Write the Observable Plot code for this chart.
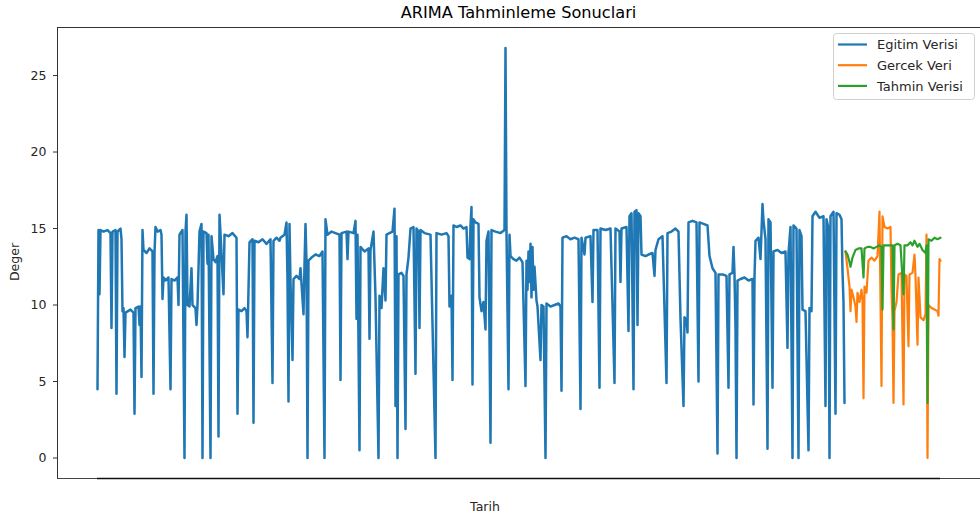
<!DOCTYPE html>
<html><head><meta charset="utf-8">
<script src="https://cdn.jsdelivr.net/npm/d3@7"></script>
<script src="https://cdn.jsdelivr.net/npm/@observablehq/plot@0.6"></script>
<style>body{margin:0;background:#fff} #chart svg{font-family:"DejaVu Sans",sans-serif;display:block}</style>
</head><body><div id="chart"></div>
<script>
// [time step, value]
const egitim = [[0,4.5],[1,14.9],[2,10.7],[3,14.9],[6,14.8],[10,14.9],[13,14.7],[14,8.5],[15,14.8],[18,14.9],[19,4.2],[20,14.8],[23,15.0],[24,14.3],[25,9.6],[26,9.8],[27,6.6],[28,9.5],[33,9.7],[36,9.5],[37,2.9],[38,9.8],[41,9.9],[42,8.7],[43,9.9],[44,5.3],[45,14.9],[46,13.6],[49,13.4],[52,13.7],[55,13.5],[56,4.2],[57,13.4],[58,15.1],[60,14.8],[63,14.9],[64,14.6],[65,10.4],[66,11.8],[68,11.6],[71,11.8],[73,4.5],[74,11.7],[77,11.6],[80,11.8],[81,10.0],[82,14.6],[85,14.9],[87,0],[88,14.8],[89,15.9],[90,10.0],[92,9.9],[94,12.4],[95,10.0],[98,9.8],[99,8.7],[100,10.0],[102,14.8],[104,15.3],[105,0],[106,14.8],[109,14.7],[110,12.7],[111,14.6],[113,0],[114,14.5],[116,13.0],[118,12.8],[120,13.2],[121,1.4],[122,15.9],[123,14.7],[126,10.7],[127,14.6],[131,14.5],[135,14.7],[139,14.4],[140,2.9],[141,9.7],[144,9.6],[147,9.8],[149,9.6],[150,7.9],[152,14.1],[155,14.3],[156,2.3],[157,14.2],[161,14.1],[165,14.3],[169,14.0],[173,14.3],[175,4.9],[176,14.2],[179,14.4],[182,14.2],[183,14.4],[187,14.6],[189,15.4],[190,11.6],[191,3.7],[192,15.3],[193,11.5],[195,6.4],[196,11.7],[199,11.9],[202,11.7],[203,12.4],[206,9.4],[207,12.6],[208,15.3],[209,12.8],[210,0],[211,12.9],[214,13.1],[218,13.3],[222,13.2],[225,13.5],[227,0],[228,15.6],[230,14.6],[234,14.8],[238,14.7],[242,14.6],[243,5.1],[244,14.7],[249,14.8],[250,13.0],[251,14.8],[256,14.7],[258,15.5],[259,9.1],[260,14.6],[262,0.5],[263,13.8],[267,13.5],[271,13.7],[272,7.8],[273,13.6],[276,14.8],[278,10.5],[281,0],[282,10.6],[284,9.8],[286,12.4],[288,10.3],[289,14.6],[292,14.7],[295,14.8],[297,16.3],[298,3.4],[299,14.5],[300,0],[301,12.0],[304,12.1],[306,11.9],[308,1.9],[309,12.0],[311,13.1],[313,15.0],[316,15.1],[318,5.5],[319,15.0],[321,14.8],[322,8.5],[323,14.9],[327,14.7],[333,14.6],[338,0],[339,14.7],[344,14.6],[349,14.7],[351,14.5],[352,9.9],[354,10.6],[355,5.1],[356,15.2],[359,15.1],[363,15.2],[366,15.0],[369,15.1],[370,13.1],[372,13.0],[373,15.2],[374,16.4],[375,4.8],[376,15.6],[378,15.4],[381,15.3],[382,10.5],[384,9.6],[386,10.2],[388,8.4],[389,14.2],[391,14.8],[393,1.0],[394,14.9],[398,14.8],[403,14.7],[407,14.9],[408,26.8],[409,14.8],[411,4.5],[412,14.6],[413,13.2],[416,13.0],[419,12.9],[422,13.1],[425,12.8],[428,4.7],[429,12.9],[430,11.0],[431,13.5],[432,11.5],[433,14.0],[434,10.5],[435,13.8],[436,11.0],[437,12.5],[439,10.3],[440,9.9],[443,6.4],[444,10.0],[446,9.9],[448,0],[449,10.1],[453,9.9],[457,10.0],[461,10.1],[463,9.9],[464,4.4],[465,14.4],[469,14.5],[473,14.3],[477,14.4],[481,14.3],[483,3.2],[484,14.4],[487,13.3],[488,14.4],[493,14.5],[495,10.2],[496,14.9],[500,14.9],[502,4.6],[503,15.0],[508,14.9],[513,15.0],[517,4.9],[518,15.0],[522,14.8],[523,11.5],[524,15.0],[529,15.1],[531,8.3],[532,15.8],[534,16.0],[536,4.5],[537,16.1],[539,16.2],[540,8.7],[541,16.0],[543,15.8],[544,13.3],[548,13.2],[551,13.3],[555,13.4],[557,11.9],[558,13.6],[561,14.3],[565,14.5],[569,4.9],[570,14.7],[574,14.8],[578,15.0],[581,14.8],[583,9.1],[586,3.4],[587,9.2],[589,9.0],[590,8.2],[591,15.4],[595,15.5],[599,15.4],[601,5.0],[602,15.4],[606,15.3],[610,15.2],[612,13.2],[615,12.4],[618,12.1],[620,0.3],[621,12.0],[625,12.0],[629,11.9],[631,4.6],[632,12.0],[635,12.1],[636,13.8],[637,12.0],[638,8.5],[639,0],[640,11.6],[643,11.7],[647,11.8],[651,11.6],[655,11.7],[656,3.5],[657,11.8],[658,14.2],[661,14.4],[663,13.0],[665,16.6],[666,15.5],[668,14.3],[670,0.6],[671,15.6],[673,15.4],[675,4.6],[676,13.5],[680,13.6],[684,13.4],[688,13.5],[690,7.2],[691,13.4],[693,15.1],[695,0],[696,15.2],[699,15.0],[701,0],[702,14.9],[704,14.5],[705,9.7],[708,9.6],[711,0.5],[712,9.8],[714,9.6],[715,15.8],[718,16.1],[722,15.7],[726,15.8],[728,3.4],[729,15.6],[731,15.0],[732,0],[733,15.8],[736,16.1],[738,2.9],[739,16.0],[742,15.9],[744,15.6],[745,12.2],[746,10.2],[747,3.6]];
const gercek = [[748,13.5],[750,12.4],[752,11.2],[753,9.6],[754,11.0],[756,10.5],[758,9.9],[759,8.9],[760,10.8],[762,10.2],[764,11.0],[765,10.3],[766,3.9],[767,11.2],[769,10.8],[771,12.9],[774,13.1],[777,12.9],[780,13.2],[782,16.1],[784,4.7],[785,15.8],[787,15.1],[790,15.0],[793,15.1],[794,11.0],[795,9.0],[796,3.6],[797,9.6],[799,10.2],[801,12.0],[804,12.1],[806,3.5],[807,12.0],[809,11.9],[811,7.3],[812,12.0],[815,12.1],[817,13.3],[818,11.9],[820,7.4],[821,11.8],[823,9.2],[826,9.0],[828,9.4],[829,14.6],[830,0],[831,10.0],[834,9.8],[837,9.7],[840,9.6],[841,9.3],[842,13.0],[843,12.9]];
const tahmin = [[748,13.5],[750,13.3],[752,12.8],[753,12.5],[755,13.1],[758,13.6],[761,13.7],[764,13.7],[766,11.8],[767,13.7],[770,13.8],[773,13.8],[776,13.7],[779,13.8],[782,13.9],[784,13.8],[785,9.7],[786,13.9],[789,13.9],[792,13.9],[795,13.9],[796,8.4],[797,13.9],[800,14.0],[803,13.9],[806,10.7],[807,13.9],[810,13.9],[813,14.1],[815,13.9],[817,14.2],[820,13.8],[822,14.0],[825,13.6],[828,13.4],[829,13.9],[830,3.6],[831,14.3],[834,14.2],[837,14.4],[840,14.3],[843,14.4]];
const seriesNames = ["Egitim Verisi", "Gercek Veri", "Tahmin Verisi"];
const seriesColors = ["#1f77b4", "#ff7f0e", "#2ca02c"];
const yTicks = [0, 5, 10, 15, 20, 25];
const titleText = "ARIMA Tahminleme Sonuclari";
const xLabel = "Tarih";
const yLabel = "Deger";

const W = 980, H = 517;
const allT = [...egitim, ...gercek, ...tahmin].map(d => d[0]);
const allV = [...egitim, ...gercek, ...tahmin].map(d => d[1]);
const tMin = d3.min(allT), tMax = d3.max(allT);
const vMin = d3.min(allV), vMax = d3.max(allV);
const vPad = (vMax - vMin) * 0.05;
const xDom = [tMin - 40, tMax + 40];
const yDom = [vMin - vPad, vMax + vPad];
const toRows = (arr, s) => arr.map(([t, v]) => ({t, v, s}));
const series = [egitim, gercek, tahmin];

const chart = Plot.plot({
  width: W, height: H,
  marginTop: 27, marginBottom: 39, marginLeft: 57, marginRight: 0,
  style: {fontFamily: "DejaVu Sans, sans-serif", fontSize: "12px", color: "#262626", background: "#fff", overflow: "visible"},
  x: {domain: xDom, axis: null},
  y: {domain: yDom, axis: null},
  color: {domain: seriesNames, range: seriesColors},
  marks: [
    ...series.map((arr, i) => Plot.line(toRows(arr, seriesNames[i]), {
      x: "t", y: "v", stroke: seriesColors[i], strokeWidth: i === 0 ? 2.5 : 2.2,
      strokeLinejoin: "round", strokeLinecap: "round"
    })),
    Plot.axisY({ticks: yTicks, tickSize: 4, tickPadding: 7, label: null, fontSize: 12.5, stroke: "#333", fill: "#262626"}),
    Plot.ruleX([xDom[0]], {stroke: "#333", strokeWidth: 1}),
    Plot.ruleY([yDom[1]], {stroke: "#333", strokeWidth: 1}),
    Plot.ruleY([yDom[0]], {stroke: "#444", strokeWidth: 1}),
    Plot.ruleY([{y: yDom[0], a: tMin, b: tMax}], {y: "y", x1: "a", x2: "b", stroke: "#111", strokeWidth: 1.6})
  ]
});
document.getElementById("chart").appendChild(chart);

const svg = d3.select(chart);
svg.append("text").attr("x", 518.5).attr("y", 18).attr("text-anchor", "middle")
  .attr("font-size", 16.2).attr("fill", "#000").text(titleText);
svg.append("text").attr("x", 485).attr("y", 511).attr("text-anchor", "middle")
  .attr("font-size", 12.5).attr("fill", "#262626").text(xLabel);
svg.append("text").attr("transform", "translate(19,262) rotate(-90)").attr("text-anchor", "middle")
  .attr("font-size", 12.5).attr("fill", "#262626").text(yLabel);

const lg = svg.append("g").attr("text-anchor", "start");
lg.append("rect").attr("x", 833.5).attr("y", 33.5).attr("width", 141).attr("height", 66).attr("rx", 3)
  .attr("fill", "#fff").attr("fill-opacity", 0.8).attr("stroke", "#d0d0d0");
seriesNames.forEach((name, i) => {
  const y = 44.5 + i * 20.7;
  lg.append("line").attr("x1", 838).attr("x2", 867).attr("y1", y).attr("y2", y)
    .attr("stroke", seriesColors[i]).attr("stroke-width", 2.2);
  lg.append("text").attr("x", 877).attr("y", y + 4.8).attr("text-anchor", "start")
    .attr("font-size", 13).attr("fill", "#262626").text(name);
});
</script></body></html>
